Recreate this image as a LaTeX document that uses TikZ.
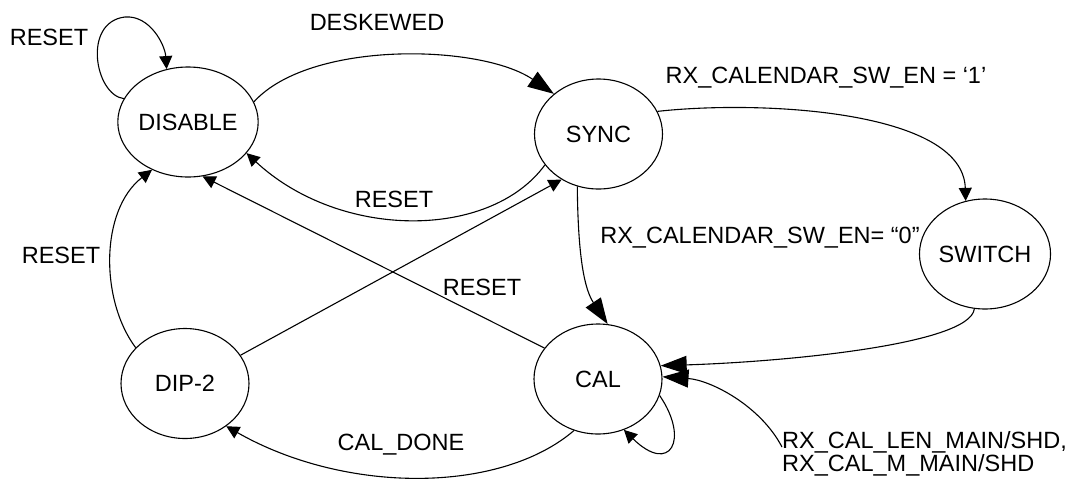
\documentclass[tikz,border=0pt]{standalone}
\usepackage{fontspec}
\setmainfont{Liberation Sans}
\usetikzlibrary{shapes.geometric,arrows.meta}
\begin{document}
\begin{tikzpicture}[x=1pt,y=-1pt,
  every node/.style={font=\fontsize{23.5}{23.5}\selectfont},
  state/.style={ellipse,draw,line width=1.1pt,minimum width=128pt,minimum height=110pt,inner sep=0pt},
  lbl/.style={inner sep=0pt,anchor=base},
  edge/.style={line width=1.1pt},
  sm/.style={edge,-{Triangle[length=13pt,width=13pt]}},
  bg/.style={edge,-{Triangle[length=26pt,width=18pt]}}]
\path[use as bounding box] (0,0) rectangle (1071,480);

\node[state] (dis) at (188,122) {DISABLE};
\node[state] (sync) at (598.5,134) {SYNC};
\node[state] (sw) at (985,254) {SWITCH};
\node[state] (dip) at (185,383.5) {DIP-2};
\node[state] (cal) at (598,379) {CAL};
\coordinate (ext) at (782,447);

\draw[sm] (dis.160) .. controls (95,95) and (82,22) .. (125,17) .. controls (150,15) and (165,45) .. (dis.112);
\draw[bg] (dis.17) .. controls (310,40) and (481,44) .. (sync.138);
\draw[sm] (sync.210) .. controls (490,240) and (340,240) .. (dis.-28);
\draw[sm] (cal.150) -- (dis.-75);
\draw[sm] (dip.27) -- (sync.-129);
\draw[sm] (dip.144) .. controls (100,300) and (100,210) .. (dis.-127);
\draw[bg] (sync.-112) .. controls (578,260) and (585,290) .. (cal.80);
\draw[sm] (sync.21) .. controls (760,100) and (963,110) .. (sw.110);
\draw[bg] (sw.-101) .. controls (970,345) and (780,362) .. (cal.12);
\draw[sm] (cal.-115) .. controls (500,494) and (345,494) .. (dip.-46);
\draw[sm] (cal.-15) .. controls (690,440) and (670,475) .. (cal.-63);
\draw[bg] (ext) .. controls (760,405) and (710,380) .. (cal.2);

\node[lbl] (l1) at (49,45) {RESET};
\node[lbl] (l2) at (377,30) {DESKEWED};
\node[lbl] (l3) at (394,207) {RESET};
\node[lbl] (l4) at (482,295) {RESET};
\node[lbl] (l5) at (61,263) {RESET};
\node[lbl] (l6) at (826,83) {RX\_CALENDAR\_SW\_EN = ‘1’};
\node[lbl] (l7) at (760,243) {RX\_CALENDAR\_SW\_EN= “0”};
\node[lbl] (l8) at (401,450) {CAL\_DONE};
\node[lbl,anchor=base west] (l9) at (782,448) {RX\_CAL\_LEN\_MAIN/SHD,};
\node[lbl,anchor=base west] (l10) at (782,471) {RX\_CAL\_M\_MAIN/SHD};
\end{tikzpicture}
\end{document}
